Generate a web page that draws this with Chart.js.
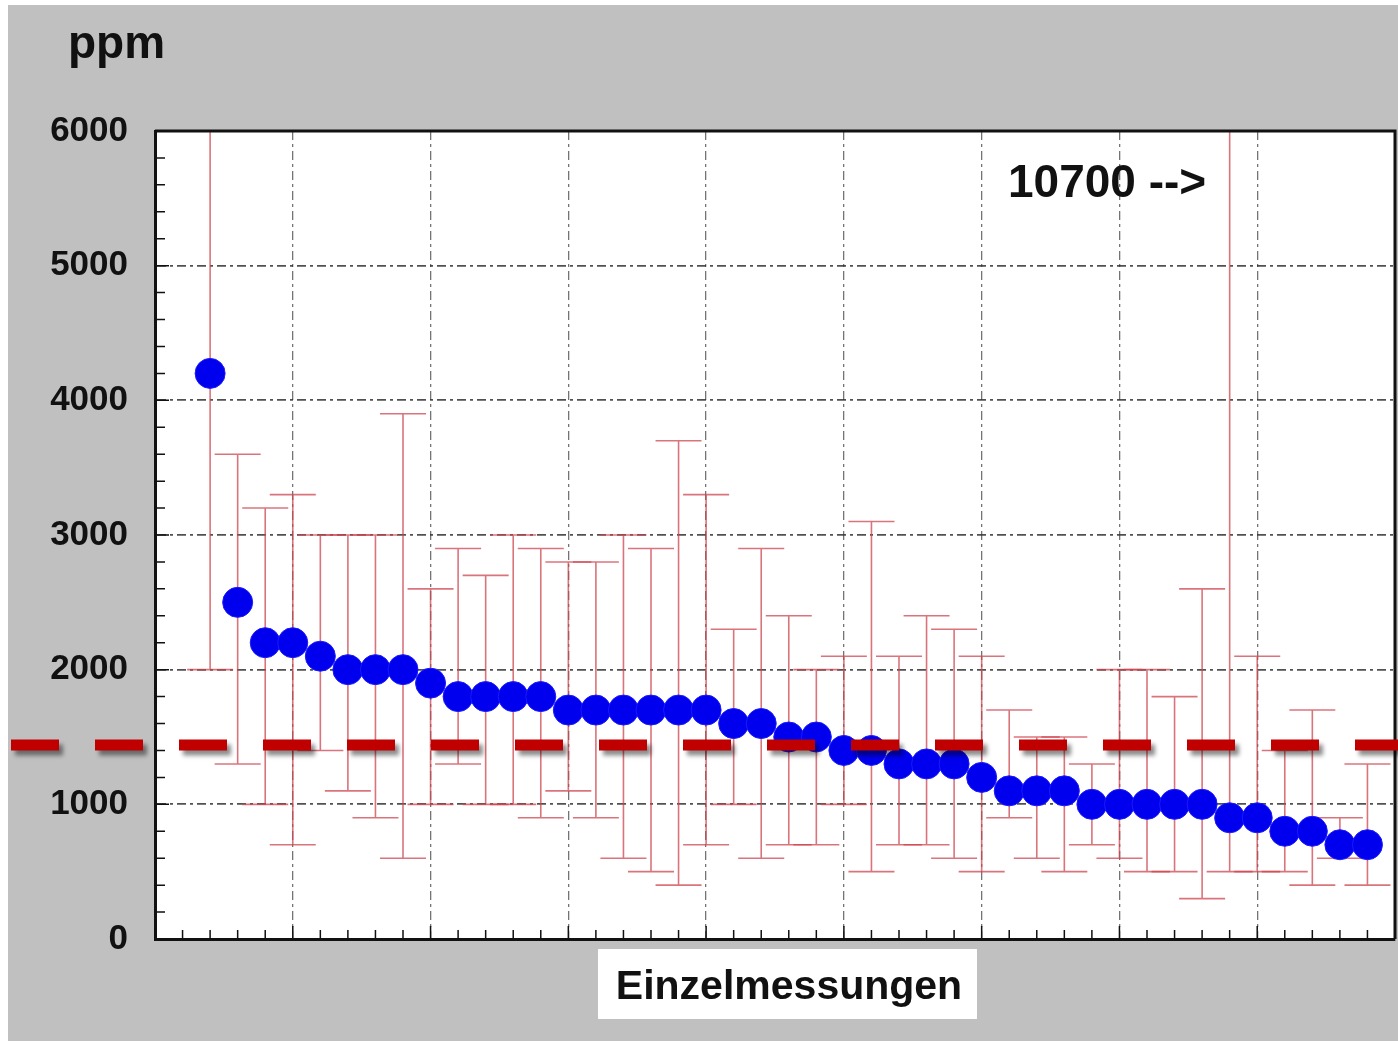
<!DOCTYPE html>
<html lang="de">
<head>
<meta charset="UTF-8">
<title>ppm - Einzelmessungen</title>
<style>
  body, html { margin:0; padding:0; background:#fff; overflow:hidden; }
  #wrap { position:absolute; left:8px; top:5px; width:1390px; height:1036px; background:#c0c0c0; }
</style>
</head>
<body>
<div id="wrap"><canvas id="chart" width="1390" height="1036"></canvas></div>

<script src="https://cdn.jsdelivr.net/npm/chart.js"></script>
<script>
  // measured values (ppm), sorted descending, with lower / upper error limits
  const ppm     = [4200,2500,2200,2200,2100,2000,2000,2000,1900,1800,1800,1800,1800,1700,1700,1700,1700,1700,1700,1600,1600,1500,1500,1400,1400,1300,1300,1300,1200,1100,1100,1100,1000,1000,1000,1000,1000,900,900,800,800,700,700];
  const errLow  = [2000,1300,1000,700,1400,1100,900,600,1000,1300,1000,1000,900,1100,900,600,500,400,700,1000,600,700,700,1000,500,700,700,600,500,900,600,500,700,600,500,500,300,500,500,500,400,600,400];
  const errHigh = [6000,3600,3200,3300,3000,3000,3000,3900,2600,2900,2700,3000,2900,2800,2800,3000,2900,3700,3300,2300,2900,2400,2000,2100,3100,2100,2400,2300,2100,1700,1500,1500,1300,2000,2000,1800,2600,10700,2100,1400,1700,900,1300];
  const yTicks = [0,1000,2000,3000,4000,5000,6000];
  const refLevel = 1440;
  const unitLabel = 'ppm';
  const xLabel = 'Einzelmessungen';
  const overflowNote = '10700 -->';

  const FONT = '"Liberation Sans", Arial, sans-serif';

  const plotBg = {
    id: 'plotBg',
    beforeDraw(chart) {
      const {ctx, chartArea: a} = chart;
      ctx.save();
      ctx.fillStyle = '#fff';
      ctx.fillRect(a.left, a.top, a.right - a.left, a.bottom - a.top);
      ctx.restore();
    }
  };

  const errorBars = {
    id: 'errorBars',
    beforeDatasetsDraw(chart) {
      const {ctx, chartArea: a, scales: {x, y}} = chart;
      ctx.save();
      ctx.strokeStyle = 'rgba(205,70,80,0.75)';
      ctx.lineWidth = 1.6;
      ppm.forEach((v, i) => {
        const px = x.getPixelForValue(i + 2);
        const top = Math.max(a.top, y.getPixelForValue(errHigh[i]));
        const bot = Math.min(a.bottom, y.getPixelForValue(errLow[i]));
        ctx.beginPath();
        ctx.moveTo(px, top); ctx.lineTo(px, bot);
        ctx.moveTo(px - 23, top); ctx.lineTo(px + 23, top);
        ctx.moveTo(px - 23, bot); ctx.lineTo(px + 23, bot);
        ctx.stroke();
      });
      ctx.restore();
    }
  };

  const decorations = {
    id: 'decorations',
    afterDraw(chart) {
      const {ctx, chartArea: a, scales: {x, y}} = chart;
      ctx.save();
      // frame top / right
      ctx.strokeStyle = '#111';
      ctx.lineWidth = 3;
      ctx.beginPath();
      ctx.moveTo(a.left, a.top); ctx.lineTo(a.right, a.top); ctx.lineTo(a.right, a.bottom);
      ctx.stroke();
      // inward ticks
      ctx.lineWidth = 1.5;
      ctx.beginPath();
      for (let v = 0; v <= 6000; v += 200) {
        const py = y.getPixelForValue(v);
        ctx.moveTo(a.left, py); ctx.lineTo(a.left + (v % 1000 === 0 ? 14 : 10), py);
      }
      for (let v = 0; v <= 45; v++) {
        const px = x.getPixelForValue(v);
        ctx.moveTo(px, a.bottom); ctx.lineTo(px, a.bottom - (v % 5 === 0 ? 13 : 9));
      }
      ctx.stroke();

      // reference level, dashed with shadow, runs past the plot on both sides
      const ry = y.getPixelForValue(refLevel);
      ctx.shadowColor = 'rgba(0,0,0,0.45)';
      ctx.shadowBlur = 4;
      ctx.shadowOffsetX = 4;
      ctx.shadowOffsetY = 5;
      ctx.strokeStyle = '#c00000';
      ctx.lineWidth = 11;
      ctx.setLineDash([48, 36]);
      ctx.beginPath();
      ctx.moveTo(3, ry); ctx.lineTo(chart.width, ry);
      ctx.stroke();
      ctx.setLineDash([]);
      ctx.shadowColor = 'transparent';

      // texts
      ctx.fillStyle = '#111';
      ctx.textBaseline = 'alphabetic';
      ctx.font = 'bold 46px ' + FONT;
      ctx.textAlign = 'left';
      ctx.fillText(unitLabel, 60, 53);
      ctx.font = 'bold 46px ' + FONT;
      ctx.fillText(overflowNote, 1000, 192);

      ctx.fillStyle = '#fff';
      ctx.fillRect(590, 944, 379, 70);
      ctx.fillStyle = '#111';
      ctx.font = 'bold 41px ' + FONT;
      ctx.textAlign = 'center';
      ctx.fillText(xLabel, 781, 994);
      ctx.restore();
    }
  };

  new Chart(document.getElementById('chart'), {
    type: 'scatter',
    data: {
      datasets: [{
        data: ppm.map((v, i) => ({x: i + 2, y: v})),
        pointRadius: 15,
        pointHoverRadius: 15,
        backgroundColor: '#0000ee',
        borderColor: '#1a1aff',
        borderWidth: 1
      }]
    },
    options: {
      responsive: false,
      animation: false,
      devicePixelRatio: 1,
      layout: { autoPadding: false, padding: { top: 126, right: 3, left: 0, bottom: 0 } },
      plugins: { legend: { display: false }, tooltip: { enabled: false } },
      events: [],
      scales: {
        x: {
          type: 'linear', min: 0, max: 45,
          ticks: { display: false, stepSize: 5 },
          grid: {
            drawTicks: false, lineWidth: 1.3,
            color: c => (c.tick.value > 0 && c.tick.value < 45) ? 'rgba(70,70,70,0.75)' : 'transparent'
          },
          border: { display: true, color: '#111', width: 3, dash: [9, 4, 3, 4] },
          afterFit: s => { s.height = 102; }
        },
        y: {
          min: 0, max: 6000,
          afterBuildTicks: s => { s.ticks = yTicks.map(v => ({value: v})); },
          ticks: {
            padding: 27, color: '#111',
            font: { family: FONT, size: 35, weight: 'bold' },
            callback: v => String(v)
          },
          grid: {
            drawTicks: false, lineWidth: 1.8,
            color: c => (c.tick.value > 0 && c.tick.value < 6000) ? 'rgba(50,50,50,0.85)' : 'transparent'
          },
          border: { display: true, color: '#111', width: 3, dash: [9, 4, 3, 4] },
          afterFit: s => { s.width = 147; }
        }
      }
    },
    plugins: [plotBg, errorBars, decorations]
  });
</script>
</body>
</html>
